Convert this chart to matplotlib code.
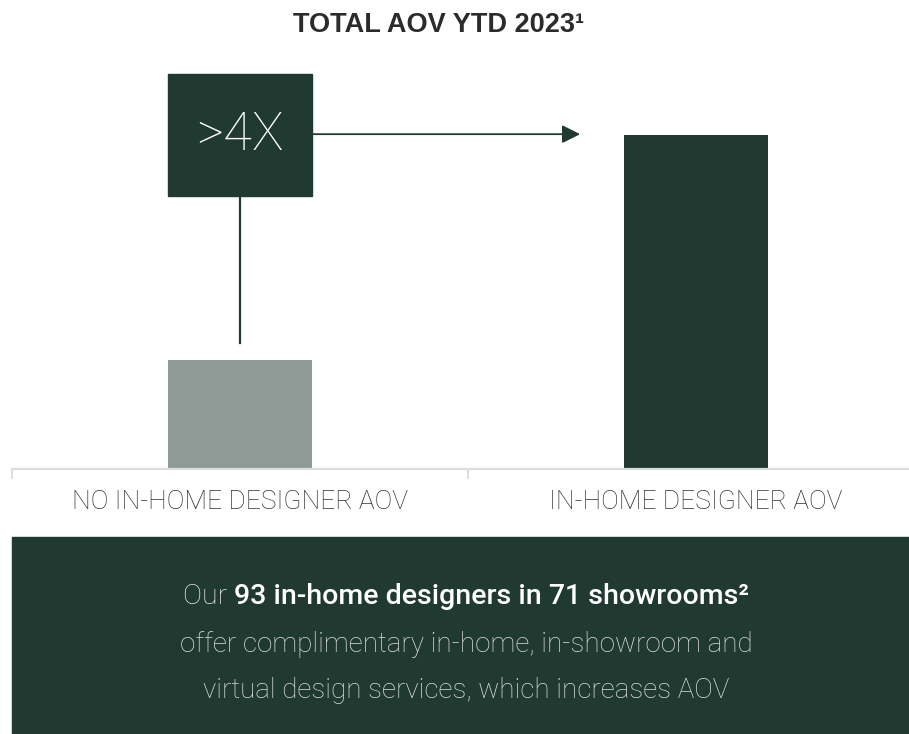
import matplotlib
matplotlib.use("Agg")
import matplotlib.pyplot as plt
from matplotlib.patches import Rectangle

# ---------------- data ----------------
categories = ["NO IN-HOME DESIGNER AOV", "IN-HOME DESIGNER AOV"]
aov_index = [1.0, 3.06]          # relative AOV, no designer = 1
bar_colors = ["#8f9a96", "#203a31"]
multiple_label = ">4X"
title = "TOTAL AOV YTD 2023\u00b9"
note_light = "Our "
note_bold = "93 in-home designers in 71 showrooms\u00b2"
note_lines = ["offer complimentary in-home, in-showroom and",
              "virtual design services, which increases AOV"]

DARK = "#203a31"
W, H = 909, 734
fig = plt.figure(figsize=(W / 100, H / 100), dpi=100)
fig.patch.set_facecolor("white")

# axes spans the category slots (partly off the right edge, like the source)
ax = fig.add_axes([12 / W, (H - 469) / H, 912 / W, (469 - 60) / H])
x = list(range(len(categories)))
ax.bar(x, aov_index, width=0.314, color=bar_colors, zorder=2)
ax.set_xlim(-0.5, 1.5)
ax.set_ylim(0, 3.75)

for s in ["top", "left", "right"]:
    ax.spines[s].set_visible(False)
ax.spines["bottom"].set_color("#dddddd")
ax.spines["bottom"].set_linewidth(1.6)
ax.set_yticks([])
ax.set_xticks(x)
ax.set_xticklabels(categories, fontfamily="Roboto", fontweight="light",
                   fontsize=19, color="#333333")
ax.tick_params(axis="x", which="major", length=0, pad=15)
ax.set_xticks([-0.5, 0.5], minor=True)
ax.tick_params(axis="x", which="minor", length=7, width=1.4, color="#dddddd")

# ">4X" callout box above the left bar
bw = 0.314
box_lo, box_hi = 2.50, 3.62
ax.add_patch(Rectangle((-bw / 2, box_lo), bw, box_hi - box_lo, color=DARK, zorder=3))
ax.text(0, (box_lo + box_hi) / 2, multiple_label, ha="center", va="center",
        color="white", fontsize=38, fontfamily="Roboto", fontweight="light", zorder=4)
ax.plot([0, 0], [aov_index[0] + 0.155, box_lo], color=DARK, lw=1.6, zorder=2)
ax.annotate("", xy=(0.746, aov_index[1] + 0.01), xytext=(bw / 2, aov_index[1] + 0.01),
            arrowprops=dict(arrowstyle="-|>,head_length=1.1,head_width=0.55",
                            color=DARK, lw=1.3, shrinkA=0, shrinkB=0), zorder=3)

fig.text(439 / W, 1 - 25 / H, title, ha="center", va="center", fontsize=19.5,
         fontweight="bold", fontfamily="Liberation Sans", color="#2b2b2b")

# bottom note panel
fig.patches.append(Rectangle((12 / W, 0), 1, (H - 537) / H, transform=fig.transFigure,
                             color=DARK, zorder=0))
fig.canvas.draw()
r = fig.canvas.get_renderer()
t1 = fig.text(0, 1 - 597 / H, note_light, fontsize=20.5, fontfamily="Roboto",
              fontweight="light", color="#e6e8e7", va="center")
t2 = fig.text(0, 1 - 597 / H, note_bold, fontsize=20.5, fontfamily="Roboto",
              fontweight="medium", color="white", va="center")
w1 = t1.get_window_extent(r).width
w2 = t2.get_window_extent(r).width
x0 = 466 - (w1 + w2) / 2
t1.set_x(x0 / W)
t2.set_x((x0 + w1) / W)
for i, line in enumerate(note_lines):
    fig.text(466 / W, 1 - (644 + 46 * i) / H, line, ha="center", va="center",
             fontsize=20, fontfamily="Roboto", fontweight="light", color="#d8dcda")

fig.savefig("out.png", dpi=100)
